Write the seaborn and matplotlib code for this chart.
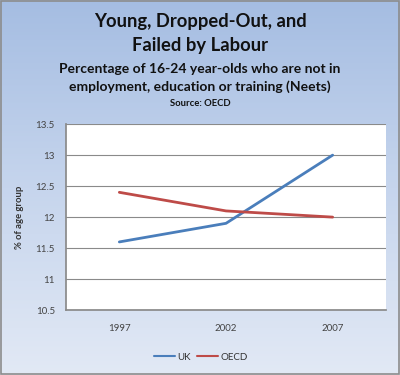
import numpy as np
import pandas as pd
import matplotlib
matplotlib.use("Agg")
import matplotlib.pyplot as plt
import seaborn as sns
from matplotlib.colors import LinearSegmentedColormap
from matplotlib.lines import Line2D

years = ["1997", "2002", "2007"]
uk = [11.6, 11.9, 13.0]
oecd = [12.4, 12.1, 12.0]
yticks = [10.5, 11, 11.5, 12, 12.5, 13, 13.5]

df = pd.DataFrame({
    "year": years * 2,
    "value": uk + oecd,
    "series": ["UK"] * 3 + ["OECD"] * 3,
})

sns.set_theme(style="white")
plt.rcParams["font.family"] = ["Lato", "DejaVu Sans"]

fig = plt.figure(figsize=(4, 3.75), dpi=100)

# gradient background
bg = fig.add_axes([0, 0, 1, 1], zorder=-10)
cmap = LinearSegmentedColormap.from_list("bg", ["#a5bde2", "#c6d5ed", "#e2e9f5"])
grad = np.linspace(0, 1, 256).reshape(-1, 1)
bg.imshow(grad, aspect="auto", cmap=cmap, extent=[0, 1, 0, 1], origin="upper")
bg.set_xlim(0, 1)
bg.set_ylim(0, 1)
bg.axis("off")
bg.add_patch(plt.Rectangle((0.002, 0.003), 0.995, 0.994, fill=False,
                           edgecolor="#8c8c8c", linewidth=1.2, transform=bg.transAxes))

ax = fig.add_axes([0.165, 0.173, 0.8, 0.496])
ax.set_facecolor("white")
palette = {"UK": "#4a7ebb", "OECD": "#be4b48"}
sns.lineplot(data=df, x="year", y="value", hue="series", palette=palette,
             linewidth=2, ax=ax, legend=False, sort=False)
ax.set_xlim(-0.5, 2.5)
ax.set_ylim(10.5, 13.5)
ax.set_yticks(yticks)
ax.set_yticklabels([f"{t:g}" for t in yticks])
ax.yaxis.grid(True, color="#8a8a8a", linewidth=0.8)
ax.set_axisbelow(True)
for s in ["top", "right"]:
    ax.spines[s].set_visible(False)
ax.spines["left"].set_color("#8a8a8a")
ax.spines["bottom"].set_color("#8a8a8a")
ax.tick_params(axis="both", labelsize=7, colors="#444444", length=0, pad=8)
ax.tick_params(axis="x", pad=10)
ax.set_xlabel("")
ax.set_ylabel("% of age group", fontsize=6.8, fontweight="bold", color="#333333", labelpad=8)

fig.text(0.5, 1 - 22 / 375, "Young, Dropped-Out, and", ha="center", va="center",
         fontsize=13.2, fontweight="bold", color="#111111")
fig.text(0.5, 1 - 46 / 375, "Failed by Labour", ha="center", va="center",
         fontsize=13.2, fontweight="bold", color="#111111")
fig.text(0.5, 1 - 69 / 375, "Percentage of 16-24 year-olds who are not in", ha="center",
         va="center", fontsize=10, fontweight="bold", color="#111111")
fig.text(0.5, 1 - 87 / 375, "employment, education or training (Neets)", ha="center",
         va="center", fontsize=10, fontweight="bold", color="#111111")
fig.text(0.5, 1 - 103 / 375, "Source: OECD", ha="center", va="center",
         fontsize=6.8, fontweight="bold", color="#111111")

# legend
handles = [Line2D([], [], color=palette["UK"], linewidth=1.5),
           Line2D([], [], color=palette["OECD"], linewidth=1.5)]
fig.legend(handles, ["UK", "OECD"], loc="center", bbox_to_anchor=(0.5025, 1 - 357 / 375),
           ncol=2, frameon=False, fontsize=7, handlelength=2.2, handletextpad=0.25,
           columnspacing=0.6, labelcolor="#333333")

fig.savefig("out.png", dpi=100)
